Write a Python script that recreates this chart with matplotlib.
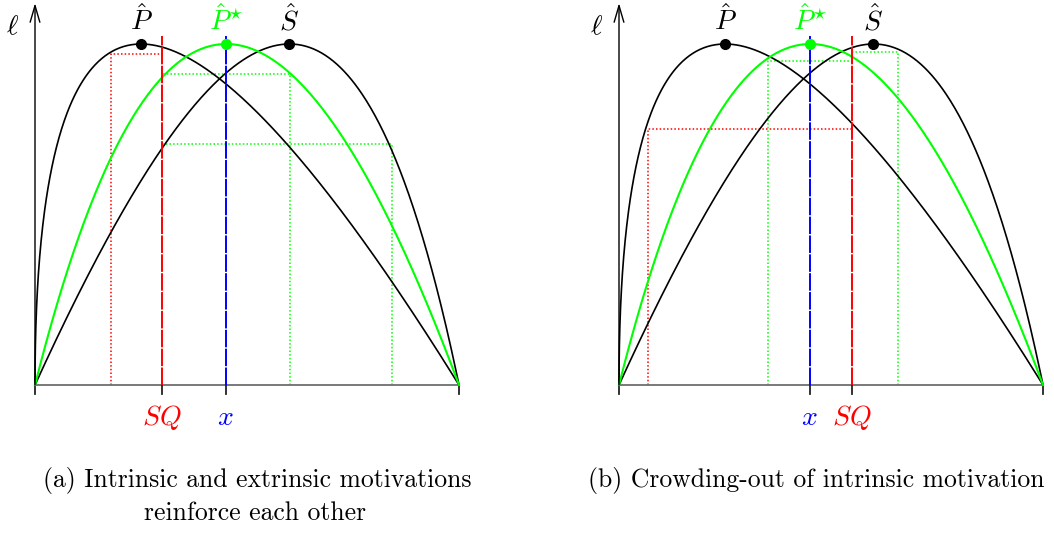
import numpy as np
import matplotlib.pyplot as plt

plt.rcParams['mathtext.fontset'] = 'cm'

GREEN = '#00ff00'
RED = '#ff0000'
BLUE = '#0000ff'

# cubic curves from (0,0) to (1,0): inner control points x1, y1, x2, y2
P_ctrl = [0.0, 4/3, 1/3, 4/3]
S_ctrl = [0.49, 4/3, 0.777, 4/3]
Pstar_ctrl = [0.27, 4/3, 0.60, 4/3]

# status quo and chosen x in each panel
sq_pos = [0.30, 0.55]
x_pos = [0.45, 0.45]

# dotted guides: corner x, level, colour (each runs across to SQ)
guide_x = [[0.179, 0.601, 0.841], [0.069, 0.351, 0.657]]
guide_y = [[0.971, 0.911, 0.707], [0.7516, 0.951, 0.9765]]
guide_c = [['red', 'green', 'green'], ['red', 'green', 'green']]

caption_a = ['(a) Intrinsic and extrinsic motivations', 'reinforce each other']
caption_b = ['(b) Crowding-out of intrinsic motivation']

COLORS = {'red': RED, 'green': GREEN}


def bezier(ctrl, n=400):
    x1, y1, x2, y2 = ctrl
    t = np.linspace(0, 1, n)
    bx = 3*(1-t)**2*t*x1 + 3*(1-t)*t**2*x2 + t**3
    by = 3*(1-t)**2*t*y1 + 3*(1-t)*t**2*y2
    return bx, by


W, H = 1054, 538
XS, YS = 424, 341     # pixels per data unit
BASE = 385            # pixel row of the x axis
FS = 20               # math label size

fig = plt.figure(figsize=(W/100, H/100), dpi=100)


def make_axes(left_px, right_px, origin_px):
    ax = fig.add_axes([left_px/W, (H-440)/H, (right_px-left_px)/W, 440/H])
    ax.set_xlim((left_px-origin_px)/XS, (right_px-origin_px)/XS)
    ax.set_ylim((BASE-440)/YS, BASE/YS)
    ax.axis('off')
    return ax


axes = [make_axes(0, 530, 35), make_axes(540, 1054, 619)]

for k, ax in enumerate(axes):
    sq, xc = sq_pos[k], x_pos[k]

    # dotted guide lines
    for gx, gy, gc in zip(guide_x[k], guide_y[k], guide_c[k]):
        ax.plot([gx, gx, sq], [0, gy, gy], color=COLORS[gc], lw=1.1,
                linestyle=(0, (1, 1.4)))

    # curves
    for ctrl, col, lw in [(P_ctrl, 'black', 1.2), (S_ctrl, 'black', 1.2),
                          (Pstar_ctrl, GREEN, 1.5)]:
        bx, by = bezier(ctrl)
        ax.plot(bx, by, color=col, lw=lw, zorder=3)

    # SQ and x verticals
    ax.plot([sq, sq], [0, 1.0235], color=RED, lw=1.4,
            linestyle=(0, (9, 0.7)), zorder=4)
    ax.plot([xc, xc], [0, 1.0235], color=BLUE, lw=1.4,
            linestyle=(0, (9, 0.7)), zorder=4)

    # axes
    ax.plot([0, 1], [0, 0], color='#6e6e6e', lw=1.3, zorder=2)
    for tx in [0, sq, xc, 1]:
        ax.plot([tx, tx], [0, -0.027], color='#222222', lw=1.3)
    ax.annotate('', xy=(0, 1.12), xytext=(0, 0),
                arrowprops=dict(arrowstyle='->,head_length=1.2,head_width=0.35',
                                lw=1.0, color='black', shrinkA=0, shrinkB=0))
    ax.text(-0.053, 1.029, r'$\ell$', fontsize=FS, ha='center', va='baseline')

    # peaks
    for ctrl, col, lab in [(P_ctrl, 'black', r'$\hat{P}$'),
                           (Pstar_ctrl, GREEN, r'$\hat{P}^{\star}$'),
                           (S_ctrl, 'black', r'$\hat{S}$')]:
        bx, by = bezier(ctrl, 3)
        ax.plot(bx[1], by[1], 'o', color=col, ms=7, zorder=5)
        ax.text(bx[1], 1.041, lab, color=col, fontsize=FS,
                ha='center', va='baseline')

    ax.text(sq, -0.1173, r'$SQ$', color=RED, fontsize=FS, ha='center', va='baseline')
    ax.text(xc, -0.1173, r'$x$', color=BLUE, fontsize=FS, ha='center', va='baseline')

fig.text(257/W, 1-481/H, caption_a[0], family='cmr10', fontsize=18.5,
         ha='center', va='center')
fig.text(255/W, 1-513/H, caption_a[1], family='cmr10', fontsize=18.5,
         ha='center', va='center')
fig.text(816/W, 1-481/H, caption_b[0], family='cmr10', fontsize=18.5,
         ha='center', va='center')

fig.savefig('out.png', dpi=100)
